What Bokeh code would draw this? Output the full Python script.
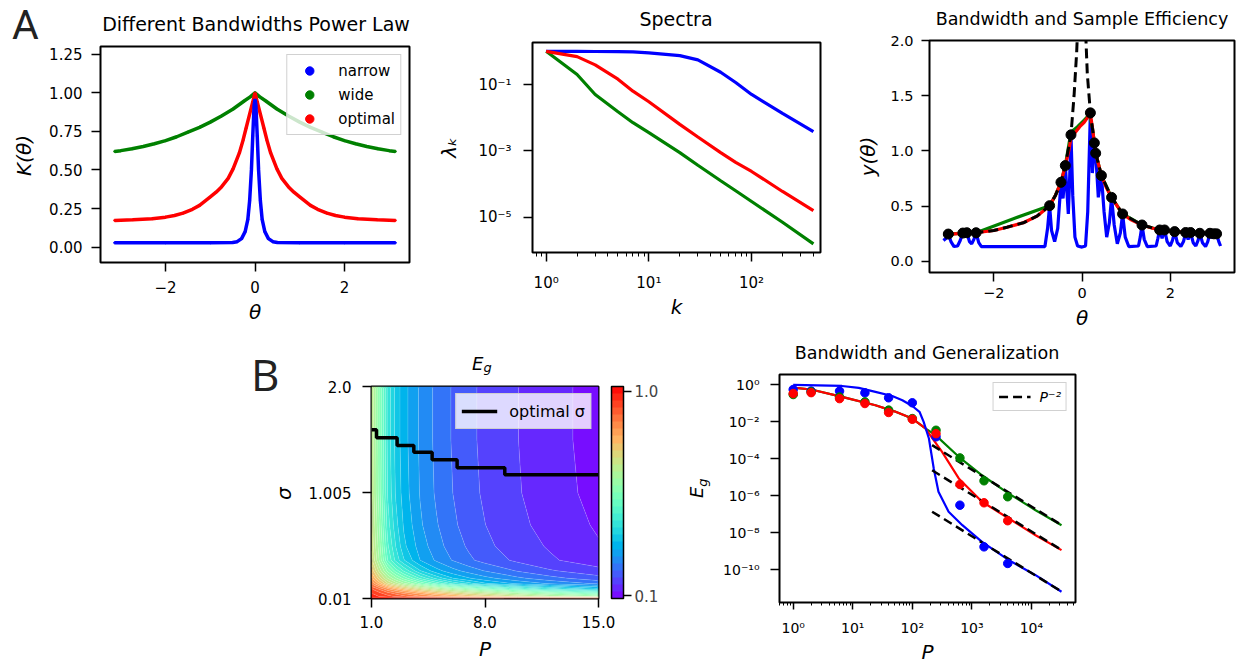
import numpy as np
from bokeh.plotting import figure
from bokeh.layouts import row, column
from bokeh.models import (FixedTicker, CustomJSTickFormatter, NumeralTickFormatter, Legend, LegendItem,
                          ColorBar, LinearColorMapper, Range1d, Div, Title)
from bokeh.embed import file_html
from bokeh.resources import INLINE

FONT = "DejaVu Sans"

# ---------------- Panel A1: kernels K(theta) ----------------
theta_narrow = [-3.14, -2.0, -1.0, -0.5, -0.4, -0.35, -0.3, -0.22, -0.16, -0.12, -0.08, -0.05, -0.02, 0.0,
                0.02, 0.05, 0.08, 0.12, 0.16, 0.22, 0.3, 0.35, 0.4, 0.5, 1.0, 2.0, 3.14]
K_narrow = [0.028, 0.028, 0.028, 0.03, 0.035, 0.045, 0.055, 0.1, 0.18, 0.3, 0.5, 0.72, 0.92, 0.96,
            0.92, 0.72, 0.5, 0.3, 0.18, 0.1, 0.055, 0.045, 0.035, 0.03, 0.028, 0.028, 0.028]
theta_wide = [-3.14, -3.0, -2.75, -2.5, -2.25, -2.0, -1.75, -1.5, -1.24, -1.0, -0.75, -0.49, -0.25, -0.1, 0.0,
              0.1, 0.25, 0.49, 0.75, 1.0, 1.24, 1.5, 1.75, 2.0, 2.25, 2.5, 2.75, 3.0, 3.14]
K_wide = [0.62, 0.625, 0.637, 0.652, 0.67, 0.69, 0.715, 0.745, 0.776, 0.81, 0.85, 0.895, 0.945, 0.975, 1.0,
          0.975, 0.945, 0.895, 0.85, 0.81, 0.776, 0.745, 0.715, 0.69, 0.67, 0.652, 0.637, 0.625, 0.62]
theta_opt = [-3.14, -2.73, -2.3, -2.0, -1.8, -1.61, -1.4, -1.24, -1.0, -0.87, -0.75, -0.6, -0.49, -0.35, -0.27,
             -0.2, -0.12, -0.05, 0.0, 0.05, 0.12, 0.2, 0.27, 0.35, 0.49, 0.6, 0.75, 0.87, 1.0, 1.24, 1.4,
             1.61, 1.8, 2.0, 2.3, 2.73, 3.14]
K_opt = [0.173, 0.177, 0.184, 0.194, 0.205, 0.22, 0.245, 0.27, 0.325, 0.356, 0.39, 0.445, 0.507, 0.61, 0.69,
         0.77, 0.862, 0.94, 1.0, 0.94, 0.862, 0.77, 0.69, 0.61, 0.507, 0.445, 0.39, 0.356, 0.325, 0.27, 0.245,
         0.22, 0.205, 0.194, 0.184, 0.177, 0.173]

# ---------------- Panel A2: spectra ----------------
k_vals = [1, 2, 3, 5, 7, 10, 20, 30, 50, 70, 100, 200, 400]
lam_narrow = [1.0, 0.993, 0.986, 0.973, 0.955, 0.902, 0.741, 0.550, 0.234, 0.115, 0.0501, 0.0135, 0.0038]
lam_opt = [1.0, 0.692, 0.389, 0.145, 0.0631, 0.0302, 0.00631, 0.00263, 8.9e-4, 4.5e-4, 2.4e-4, 6.0e-5, 1.58e-5]
lam_wide = [1.0, 0.2, 0.05, 0.0151, 0.00708, 0.00355, 8.9e-4, 3.7e-4, 1.26e-4, 6.3e-5, 3.0e-5, 7.1e-6, 1.58e-6]

# ---------------- Panel A3: fits y(theta) ----------------
theta_samples = [-3.03, -2.70, -2.61, -2.40, -0.734, -0.477, -0.378, -0.25, 0.19, 0.28, 0.31, 0.44,
                 0.67, 0.92, 1.36, 1.76, 1.87, 2.10, 2.35, 2.46, 2.67, 2.90, 2.99, 3.05]
y_samples = [0.248, 0.257, 0.26, 0.26, 0.505, 0.716, 0.868, 1.146, 1.345, 1.073, 0.98, 0.777,
             0.58, 0.43, 0.33, 0.285, 0.285, 0.27, 0.262, 0.262, 0.255, 0.255, 0.25, 0.25]
theta_target = [-3.14, -3.0, -2.7, -2.4, -2.0, -1.7, -1.33, -1.02, -0.734, -0.6, -0.477, -0.378, -0.25,
                -0.18, -0.12, -0.08, -0.04, 0.0, 0.04, 0.08, 0.12, 0.19, 0.28, 0.31, 0.44, 0.67, 0.92,
                1.36, 1.76, 2.1, 2.46, 2.9, 3.14]
y_target = [0.245, 0.247, 0.255, 0.26, 0.28, 0.31, 0.35, 0.41, 0.505, 0.6, 0.716, 0.868, 1.146,
            1.5, 1.9, 2.3, 2.8, 3.2, 2.7, 2.1, 1.7, 1.345, 1.073, 0.98, 0.777, 0.58, 0.43,
            0.33, 0.285, 0.27, 0.262, 0.255, 0.25]
theta_fit_opt = [-3.14, -3.0, -2.7, -2.4, -2.0, -1.7, -1.33, -1.02, -0.734, -0.6, -0.477, -0.378, -0.3,
                 -0.25, -0.15, -0.05, 0.05, 0.12, 0.19, 0.24, 0.28, 0.31, 0.44, 0.55, 0.67, 0.8, 0.92,
                 1.1, 1.36, 1.6, 1.76, 2.1, 2.46, 2.9, 3.14]
y_fit_opt = [0.245, 0.247, 0.255, 0.26, 0.28, 0.31, 0.35, 0.41, 0.505, 0.6, 0.716, 0.868, 1.0,
             1.12, 1.17, 1.22, 1.26, 1.3, 1.335, 1.2, 1.073, 0.98, 0.777, 0.67, 0.58, 0.5, 0.43,
             0.38, 0.33, 0.3, 0.285, 0.27, 0.262, 0.255, 0.25]
theta_fit_wide = [-3.14, -3.03, -2.7, -2.4, -1.57, -0.734, -0.6, -0.477, -0.378, -0.25, -0.1, 0.05,
                  0.17, 0.24, 0.28, 0.31, 0.44, 0.67, 0.92, 1.36, 1.76, 2.1, 2.46, 2.9, 3.14]
y_fit_wide = [0.245, 0.248, 0.257, 0.26, 0.385, 0.505, 0.6, 0.716, 0.868, 1.17, 1.22, 1.28,
              1.33, 1.2, 1.073, 0.98, 0.777, 0.58, 0.43, 0.33, 0.285, 0.27, 0.262, 0.255, 0.25]
theta_fit_narrow = [-3.14, -3.08, -3.03, -2.97, -2.90, -2.82, -2.76, -2.70, -2.655, -2.61, -2.55, -2.50,
                    -2.45, -2.40, -2.34, -2.28, -0.84, -0.78, -0.734, -0.69, -0.62, -0.55, -0.50, -0.477,
                    -0.43, -0.40, -0.378, -0.34, -0.31, -0.28, -0.25, -0.21, -0.16, -0.10, 0.0, 0.08,
                    0.13, 0.19, 0.235, 0.28, 0.295, 0.31, 0.37, 0.44, 0.50, 0.56, 0.62, 0.67, 0.73,
                    0.80, 0.87, 0.92, 0.98, 1.06, 1.28, 1.32, 1.36, 1.41, 1.48, 1.68, 1.72, 1.76,
                    1.815, 1.87, 1.93, 2.0, 2.05, 2.10, 2.16, 2.24, 2.30, 2.35, 2.405, 2.46, 2.52,
                    2.58, 2.63, 2.67, 2.73, 2.80, 2.85, 2.90, 2.945, 2.99, 3.02, 3.05, 3.10, 3.14]
y_fit_narrow = [0.19, 0.21, 0.248, 0.18, 0.135, 0.14, 0.19, 0.257, 0.22, 0.26, 0.18, 0.16,
                0.20, 0.26, 0.17, 0.135, 0.135, 0.30, 0.505, 0.28, 0.18, 0.30, 0.58, 0.716,
                0.57, 0.72, 0.868, 0.62, 0.43, 0.75, 1.146, 0.6, 0.22, 0.14, 0.13, 0.14,
                0.45, 1.345, 0.80, 1.073, 0.95, 0.98, 0.58, 0.777, 0.45, 0.22, 0.35, 0.58, 0.33,
                0.16, 0.26, 0.43, 0.22, 0.135, 0.14, 0.22, 0.33, 0.2, 0.135, 0.14, 0.21, 0.285,
                0.21, 0.285, 0.18, 0.14, 0.19, 0.27, 0.17, 0.135, 0.18, 0.262, 0.20, 0.262, 0.17,
                0.14, 0.19, 0.255, 0.17, 0.135, 0.18, 0.255, 0.21, 0.25, 0.22, 0.25, 0.18, 0.14]

# ---------------- Panel B1: E_g over (P, sigma) ----------------
P_grid = [1, 1.5, 2, 2.5, 3, 4, 5, 6, 7, 8, 10, 12, 15]
sigma_grid = [0.01, 0.03, 0.06, 0.1, 0.15, 0.2, 0.27, 0.37, 0.5, 0.7, 1.0, 1.5, 2.0]
Eg_grid = [
    [0.999, 0.9985, 0.998, 0.9975, 0.997, 0.996, 0.995, 0.994, 0.993, 0.992, 0.99, 0.984, 0.977],
    [0.978, 0.957, 0.94, 0.922, 0.905, 0.87, 0.837, 0.806, 0.775, 0.749, 0.70, 0.659, 0.609],
    [0.96, 0.935, 0.91, 0.885, 0.86, 0.815, 0.77, 0.735, 0.70, 0.673, 0.62, 0.576, 0.51],
    [0.93, 0.89, 0.842, 0.804, 0.767, 0.707, 0.66, 0.616, 0.578, 0.541, 0.474, 0.415, 0.351],
    [0.86, 0.79, 0.714, 0.667, 0.623, 0.55, 0.483, 0.424, 0.381, 0.342, 0.30, 0.27, 0.237],
    [0.81, 0.725, 0.647, 0.593, 0.543, 0.456, 0.389, 0.338, 0.308, 0.285, 0.25, 0.223, 0.192],
    [0.765, 0.665, 0.576, 0.51, 0.456, 0.37, 0.317, 0.285, 0.261, 0.241, 0.209, 0.184, 0.16],
    [0.72, 0.61, 0.492, 0.42, 0.37, 0.305, 0.269, 0.241, 0.218, 0.2, 0.174, 0.154, 0.13],
    [0.705, 0.595, 0.467, 0.398, 0.344, 0.291, 0.256, 0.228, 0.207, 0.188, 0.164, 0.146, 0.121],
    [0.695, 0.58, 0.445, 0.379, 0.332, 0.279, 0.246, 0.218, 0.198, 0.181, 0.157, 0.138, 0.114],
    [0.685, 0.565, 0.427, 0.364, 0.321, 0.272, 0.238, 0.212, 0.19, 0.176, 0.152, 0.132, 0.108],
    [0.68, 0.56, 0.42, 0.357, 0.317, 0.269, 0.235, 0.209, 0.187, 0.174, 0.15, 0.13, 0.105],
    [0.68, 0.56, 0.42, 0.357, 0.317, 0.269, 0.235, 0.209, 0.187, 0.174, 0.15, 0.13, 0.105],
]
P_opt = [1.0, 1.31, 2.58, 3.61, 4.74, 6.28, 9.22, 15.0]
sigma_opt = [1.594, 1.518, 1.446, 1.383, 1.312, 1.237, 1.171, 1.171]
cbar_ticks = [0.1, 1.0]

# ---------------- Panel B2: generalization error ----------------
P_line_narrow = [1, 6.6, 12.6, 24, 46, 68, 100, 132, 155, 190, 229, 275, 407, 692, 1480, 4170, 11750, 32000]
Eg_line_narrow = [1.0, 0.87, 0.69, 0.42, 0.25, 0.148, 0.072, 0.035, 0.01, 1.26e-3, 3.0e-5, 1.66e-6,
                  1.38e-7, 2.57e-8, 3.2e-9, 3.3e-10, 5.1e-11, 6.5e-12]
P_line_opt = [1, 2, 6.6, 24, 50, 100, 166, 230, 316, 603, 1480, 4170, 11750, 32000]
Eg_line_opt = [0.71, 0.56, 0.224, 0.079, 0.037, 0.015, 4.4e-3, 1.0e-3, 2.4e-4, 8.7e-6, 4.8e-7,
               5.9e-8, 7.4e-9, 1.15e-9]
P_line_wide = [1, 2, 6.6, 24, 50, 100, 166, 245, 603, 1480, 4170, 11750, 32000]
Eg_line_wide = [0.71, 0.56, 0.224, 0.079, 0.037, 0.015, 4.4e-3, 1.9e-3, 1.29e-4, 1.29e-5, 1.32e-6,
                1.66e-7, 2.57e-8]
P_asym = [215, 32400]
asym_wide = [5.5e-4, 2.57e-8]
asym_opt = [2.4e-5, 1.15e-9]
asym_narrow = [1.38e-7, 6.5e-12]
P_exp = [1, 2, 6, 16, 40, 100, 250, 630, 1600, 4000]
Eg_exp_narrow = [0.56, 0.46, 0.46, 0.37, 0.20, 0.107, 1.55e-3, 3.1e-7, 1.74e-9, 2.2e-10]
Eg_exp_opt = [0.34, 0.38, 0.18, 0.098, 0.032, 0.0138, 2.3e-3, 4.1e-6, 4.2e-7, 4.5e-8]
Eg_exp_wide = [0.30, 0.42, 0.22, 0.12, 0.043, 0.015, 3.5e-3, 1.12e-4, 6.5e-6, 8.9e-7]

BLUE, GREEN, RED = "#0000ff", "#008000", "#ff0000"


def log_fmt():
    return CustomJSTickFormatter(code="""
        const e = Math.round(Math.log10(tick));
        const m = {"-": "⁻", "0": "⁰", "1": "¹", "2": "²", "3": "³", "4": "⁴",
                   "5": "⁵", "6": "⁶", "7": "⁷", "8": "⁸", "9": "⁹"};
        return "10" + String(e).split("").map(c => m[c]).join("");
    """)


def minus_fmt():
    return CustomJSTickFormatter(code="""
        if (Math.abs(tick) < 1e-9) return "0";
        return (tick < 0 ? "\u2212" : "") + Math.abs(tick).toString();
    """)


def make_fig(fw, fh, left, right, top, bottom, **kw):
    p = figure(frame_width=fw, frame_height=fh, min_border_left=left, min_border_right=right,
               min_border_top=top, min_border_bottom=bottom, output_backend="svg",
               toolbar_location=None, **kw)
    p.outline_line_color = "black"
    p.outline_line_width = 2
    p.outline_line_alpha = 1
    p.grid.visible = False
    p.background_fill_color = "white"
    p.border_fill_color = "white"
    return p


def style_axis(ax, tick_size, tick_len, standoff, label_standoff, minor_len=4):
    ax.axis_line_color = None
    ax.major_tick_line_color = "black"
    ax.major_tick_line_width = 1.5
    ax.major_tick_out = tick_len
    ax.major_tick_in = 0
    ax.minor_tick_line_color = "black"
    ax.minor_tick_line_width = 1
    ax.minor_tick_out = minor_len
    ax.minor_tick_in = 0
    ax.major_label_text_font = FONT
    ax.major_label_text_font_size = tick_size
    ax.major_label_text_color = "black"
    ax.major_label_standoff = standoff
    ax.axis_label_text_font = FONT
    ax.axis_label_text_font_size = "20px"
    ax.axis_label_text_font_style = "italic"
    ax.axis_label_text_color = "black"
    ax.axis_label_standoff = label_standoff


def style_legend(lg, size="15px"):
    lg.label_text_font = FONT
    lg.label_text_font_size = size
    lg.label_text_color = "black"
    lg.background_fill_color = "white"
    lg.background_fill_alpha = 0.8
    lg.border_line_color = "#cccccc"
    lg.border_line_width = 1.5
    lg.border_line_alpha = 0.9


def span(text, left, top, size, font=FONT, italic=False, color="black", extra=""):
    st = "font-style:italic;" if italic else ""
    return ('<span style="position:absolute;left:%spx;top:%spx;font-family:\'%s\';font-size:%spx;'
            'line-height:1;white-space:nowrap;color:%s;%s%s">%s</span>'
            % (left, top, font, size, color, st, extra, text))


def cspan(text, cx, hw, top, size, font=FONT, color="black"):
    return ('<div style="position:absolute;left:%spx;width:%spx;top:%spx;text-align:center;'
            'font-family:\'%s\';font-size:%spx;line-height:1;white-space:nowrap;color:%s;">%s</div>'
            % (cx - hw, 2 * hw, top, font, size, color, text))


def header(width, height, spans):
    html = ('<div style="position:relative;width:%dpx;height:%dpx;overflow:hidden;">%s</div>'
            % (width, height, "".join(spans)))
    return Div(text=html, width=width, height=height, margin=0)


ROT = "transform-origin:0 0;transform:rotate(-90deg);"

# ================= A1 =================
pA1 = make_fig(309, 216, 60, 25, 2, 76, x_range=Range1d(-3.456, 3.456), y_range=Range1d(-0.1, 1.3))
sb = pA1.scatter(theta_narrow, K_narrow, size=2, color=BLUE)
sg = pA1.scatter(theta_wide, K_wide, size=2, color=GREEN)
sr = pA1.scatter(theta_opt, K_opt, size=2, color=RED)
pA1.line(theta_wide, K_wide, line_color=GREEN, line_width=3.5)
pA1.line(theta_opt, K_opt, line_color=RED, line_width=3.5)
pA1.line(theta_narrow, K_narrow, line_color=BLUE, line_width=3.5)
legA1 = Legend(items=[LegendItem(label="narrow", renderers=[sb]),
                      LegendItem(label="wide", renderers=[sg]),
                      LegendItem(label="optimal", renderers=[sr])],
               location="top_right", margin=8, padding=5, spacing=3, glyph_width=34, glyph_height=21,
               label_height=21, label_standoff=12)
style_legend(legA1, "15px")
pA1.add_layout(legA1)
pA1.xaxis.ticker = FixedTicker(ticks=[-2, 0, 2], minor_ticks=[])
pA1.xaxis.formatter = minus_fmt()
pA1.yaxis.ticker = FixedTicker(ticks=[0, 0.25, 0.5, 0.75, 1.0, 1.25], minor_ticks=[])
pA1.yaxis.formatter = NumeralTickFormatter(format="0.00")
pA1.xaxis.axis_label = "θ"
style_axis(pA1.xaxis[0], "15px", 9, 9, 4)
style_axis(pA1.yaxis[0], "15px", 9, 9, 0)
hA1 = header(394, 44, [cspan("Different Bandwidths Power Law", 216, 178, 15, 19)])
dA = header(40, 338, [span("A", 12, 5, 41, font="Roboto", color="#222222"),
                      span("K(θ)", 14, 176, 20, italic=True, extra=ROT)])

# ================= A2 =================
pA2 = make_fig(288, 210, 95, 33, 6, 86, x_axis_type="log", y_axis_type="log",
               x_range=Range1d(10 ** -0.133, 10 ** 2.671), y_range=Range1d(10 ** -6.06, 10 ** 0.265))
pA2.line(k_vals, lam_narrow, line_color=BLUE, line_width=3.2)
pA2.line(k_vals, lam_wide, line_color=GREEN, line_width=3.2)
pA2.line(k_vals, lam_opt, line_color=RED, line_width=3.2)
minA2 = [0.8, 0.9] + [d * i for d in (1, 10) for i in range(2, 10)] + [200, 300, 400]
pA2.xaxis.ticker = FixedTicker(ticks=[1, 10, 100], minor_ticks=minA2)
pA2.yaxis.ticker = FixedTicker(ticks=[1e-5, 1e-3, 1e-1], minor_ticks=[])
pA2.xaxis.formatter = log_fmt()
pA2.yaxis.formatter = log_fmt()
pA2.xaxis.axis_label = "k"
pA2.yaxis.axis_label = "λₖ"
style_axis(pA2.xaxis[0], "15px", 9, 12, 0)
style_axis(pA2.yaxis[0], "15px", 9, 12, 14)
hA2 = header(416, 36, [cspan("Spectra", 242, 174, 10, 19)])

# ================= A3 =================
pA3 = make_fig(305, 232, 76, 8, 10, 66, x_range=Range1d(-3.456, 3.456), y_range=Range1d(-0.1, 2.0))
pA3.line(theta_fit_narrow, y_fit_narrow, line_color=BLUE, line_width=3.2)
pA3.line(theta_fit_wide, y_fit_wide, line_color=GREEN, line_width=3.2)
pA3.line(theta_fit_opt, y_fit_opt, line_color=RED, line_width=3.2)
pA3.line(theta_target, y_target, line_color="black", line_width=3, line_dash="10 5")
pA3.scatter(theta_samples, y_samples, size=10, color="black")
pA3.xaxis.ticker = FixedTicker(ticks=[-2, 0, 2], minor_ticks=[])
pA3.xaxis.formatter = minus_fmt()
pA3.yaxis.ticker = FixedTicker(ticks=[0, 0.5, 1.0, 1.5, 2.0], minor_ticks=[])
pA3.yaxis.formatter = NumeralTickFormatter(format="0.0")
pA3.xaxis.axis_label = "θ"
pA3.yaxis.axis_label = "y(θ)"
style_axis(pA3.xaxis[0], "14.5px", 9, 6, 5)
style_axis(pA3.yaxis[0], "14.5px", 8, 8, 7)
hA3 = header(389, 30, [cspan("Bandwidth and Sample Efficiency", 229, 160, 11, 17.5)])

# ================= B1 =================
pB1 = make_fig(227, 212, 71, 82, 10, 66, x_range=Range1d(1, 15), y_range=Range1d(0.01, 2.0))
levels = list(np.linspace(0.087, 1.022, 31))


def rainbow(t):
    r = min(1.0, abs(2 * t - 0.5))
    g = np.sin(np.pi * t)
    b = np.cos(np.pi * t / 2)
    return "#%02x%02x%02x" % (int(round(255 * r)), int(round(255 * g)), int(round(255 * max(b, 0))))


palette = [rainbow((i + 0.5) / 30) for i in range(30)]
pB1.contour(x=P_grid, y=sigma_grid, z=np.array(Eg_grid), levels=levels, fill_color=palette,
            line_color="white", line_alpha=0.25, line_width=0.6)
st = pB1.step(P_opt, sigma_opt, mode="after", line_color="black", line_width=3.5)
legB1 = Legend(items=[LegendItem(label="optimal σ", renderers=[st])], location="top_right",
               margin=7, padding=5, glyph_width=36, glyph_height=24, label_height=24, label_standoff=12)
style_legend(legB1, "16px")
pB1.add_layout(legB1)
pB1.xaxis.ticker = FixedTicker(ticks=[1, 8, 15], minor_ticks=[])
pB1.xaxis.formatter = CustomJSTickFormatter(code="return tick.toFixed(1);")
pB1.yaxis.ticker = FixedTicker(ticks=[0.01, 1.005, 2.0], minor_ticks=[])
pB1.yaxis.formatter = CustomJSTickFormatter(code="return tick > 1.9 ? tick.toFixed(1) : String(tick);")
pB1.xaxis.axis_label = "P"
style_axis(pB1.xaxis[0], "15px", 9, 8, 6)
style_axis(pB1.yaxis[0], "15px", 9, 11, 0)
pB1.add_layout(Title(text=" ", text_font_size="2px", standoff=9), "right")
mapper = LinearColorMapper(palette=palette, low=levels[0], high=levels[-1])
cb = ColorBar(color_mapper=mapper, ticker=FixedTicker(ticks=cbar_ticks, minor_ticks=[]),
              formatter=CustomJSTickFormatter(code="return tick.toFixed(1);"),
              width=12, height=212, margin=0, padding=0, bar_line_color="black", bar_line_width=1.5,
              major_tick_out=8, major_tick_in=0, major_tick_line_color="black", major_tick_line_width=1.5,
              minor_tick_line_color=None,
              major_label_text_font=FONT, major_label_text_font_size="15px", label_standoff=3,
              border_line_color=None, background_fill_color=None)
pB1.add_layout(cb, "right")
g_sub = '<span style="font-size:13px;position:relative;top:2px;">g</span>'
hB1 = header(380, 38, [span("E" + g_sub, 172, 17, 18, italic=True)])
dB = header(300, 326, [span("B", 251, 14, 44, font="Open Sans", color="#222222"),
                       span("σ", 274, 162, 20, italic=True, extra=ROT)])

# ================= B2 =================
pB2 = make_fig(296, 228, 67, 164, 6, 62, x_axis_type="log", y_axis_type="log",
               x_range=Range1d(10 ** -0.23, 10 ** 4.74), y_range=Range1d(10 ** -11.77, 10 ** 0.56))
pB2.line(P_line_wide, Eg_line_wide, line_color=GREEN, line_width=2.2)
pB2.line(P_line_opt, Eg_line_opt, line_color=RED, line_width=2.2)
pB2.line(P_line_narrow, Eg_line_narrow, line_color=BLUE, line_width=2.2)
d1 = pB2.line(P_asym, asym_wide, line_color="black", line_width=2.5, line_dash="9 5")
pB2.line(P_asym, asym_opt, line_color="black", line_width=2.5, line_dash="9 5")
pB2.line(P_asym, asym_narrow, line_color="black", line_width=2.5, line_dash="9 5")
pB2.scatter(P_exp, Eg_exp_narrow, size=8.5, color=BLUE)
pB2.scatter(P_exp, Eg_exp_wide, size=8.5, color=GREEN)
pB2.scatter(P_exp, Eg_exp_opt, size=8.5, color=RED)
legB2 = Legend(items=[LegendItem(label="P⁻²", renderers=[d1])], location="top_right",
               margin=8, padding=5, glyph_width=32, glyph_height=17, label_height=17, label_standoff=9)
style_legend(legB2, "14px")
legB2.label_text_font_style = "italic"
pB2.add_layout(legB2)
minB2 = [0.6, 0.7, 0.8, 0.9] + [d * i for d in (1, 10, 100, 1000, 10000) for i in range(2, 10)
                                if d * i < 55000]
pB2.xaxis.ticker = FixedTicker(ticks=[1, 10, 100, 1000, 10000], minor_ticks=minB2)
pB2.yaxis.ticker = FixedTicker(ticks=[1e-10, 1e-8, 1e-6, 1e-4, 1e-2, 1], minor_ticks=[])
pB2.xaxis.formatter = log_fmt()
pB2.yaxis.formatter = log_fmt()
pB2.xaxis.axis_label = "P"
style_axis(pB2.xaxis[0], "14px", 7, 10, 1, minor_len=3)
style_axis(pB2.yaxis[0], "14px", 9, 11, 0)
hB2 = header(527, 30, [cspan("Bandwidth and Generalization", 215, 215, 7, 17.5)])
g_sub_r = '<span style="font-size:13px;position:relative;top:4px;">g</span>'
dE = header(32, 326, [span("E" + g_sub_r, 8, 160, 18, italic=True, extra=ROT)])

top = row(dA, column(hA1, pA1), column(hA2, pA2), column(hA3, pA3))
bottom = row(dB, column(hB1, pB1), dE, column(hB2, pB2))
layout = column(top, bottom)
open("out.html", "w").write(file_html(layout, INLINE))
